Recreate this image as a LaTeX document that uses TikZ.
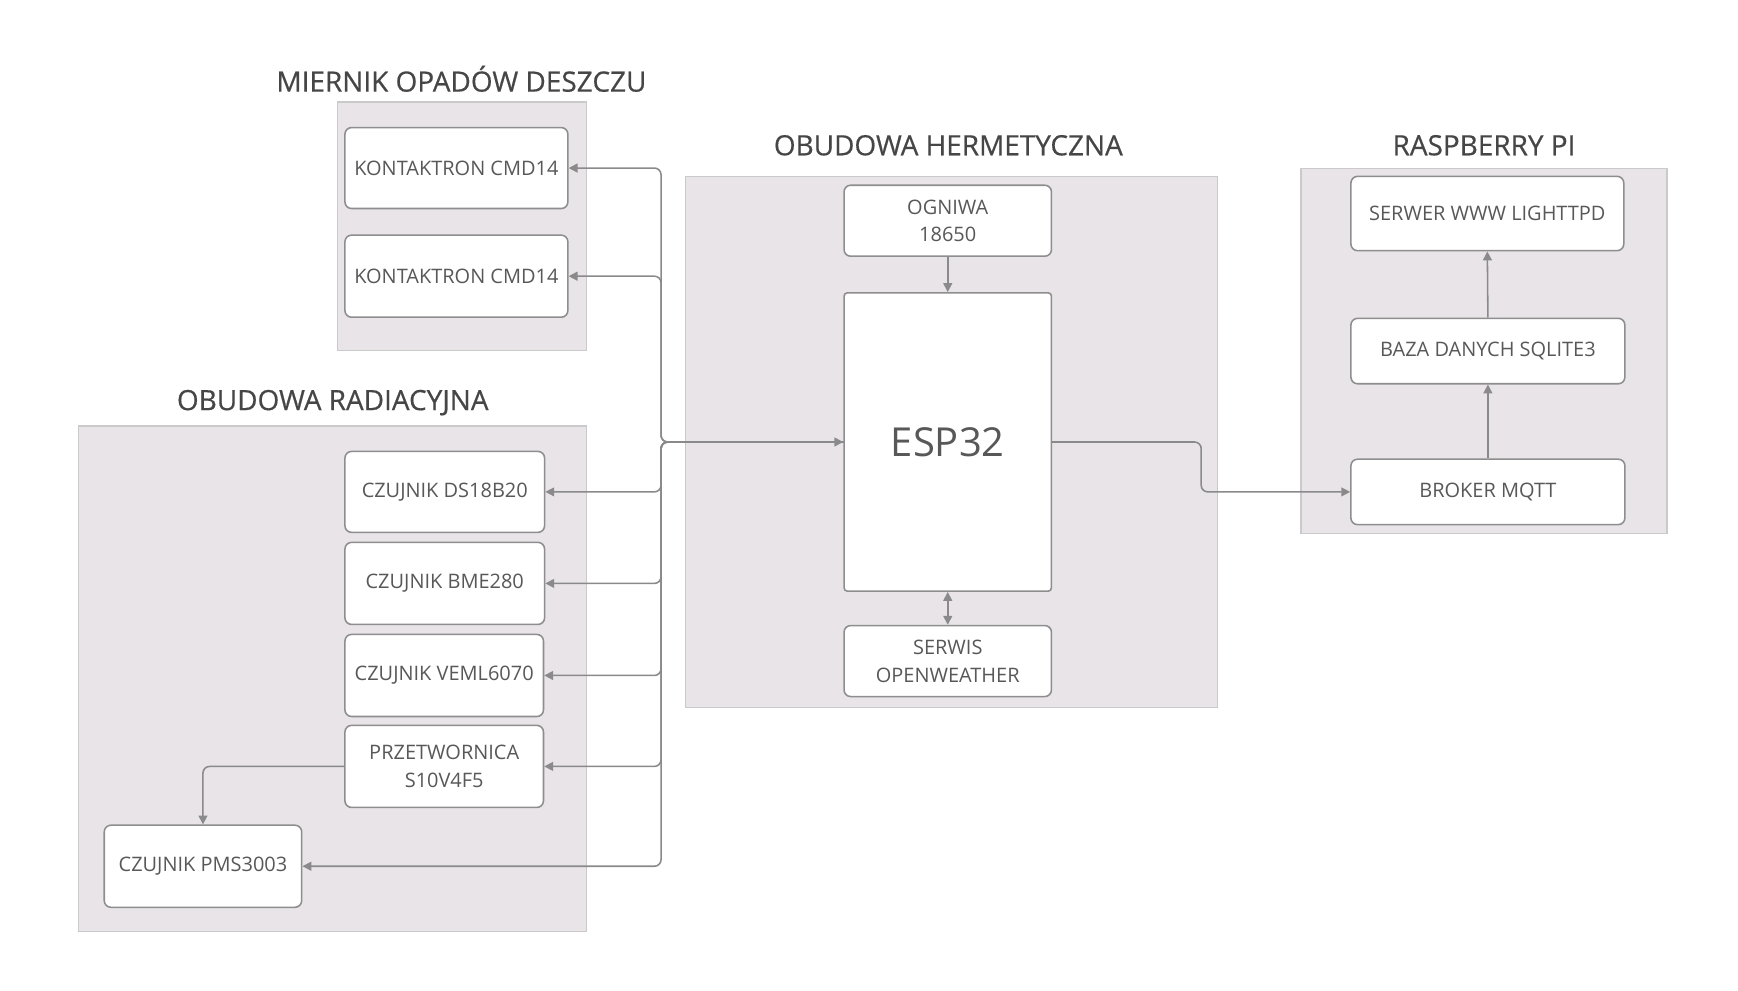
\documentclass[tikz,border=0pt]{standalone}
\usepackage{fontspec}
\setmainfont{Open Sans}
\newfontfamily\ttlfont[FakeBold=0.5]{Open Sans}
\usetikzlibrary{arrows.meta,positioning,calc}
\definecolor{txt}{HTML}{585858}
\definecolor{ttxt}{HTML}{464646}
\definecolor{frfill}{HTML}{E8E4E8}
\definecolor{frline}{HTML}{CACACA}
\definecolor{bxline}{HTML}{8E8E8E}
\definecolor{cn}{HTML}{8A8A8A}
\tikzset{
  frame/.style={draw=frline, fill=frfill, line width=1.2pt},
  box/.style={draw=bxline, fill=white, line width=1.4pt, rounded corners=6pt,
    text=txt, font=\fontsize{18}{25}\selectfont, align=center, inner sep=0pt},
  ttl/.style={text=ttxt, font=\ttlfont\fontsize{25.2}{28}\selectfont, inner sep=0pt},
  conn/.style={draw=cn, line width=1.4pt, rounded corners=6pt,
    -{Triangle[length=8pt,width=8pt]}},
  bconn/.style={draw=cn, line width=1.4pt,
    {Triangle[length=8pt,width=8pt]}-{Triangle[length=8pt,width=8pt]}}
}
\begin{document}
\begin{tikzpicture}[x=1pt,y=-1pt]
\useasboundingbox (0,0) rectangle (1567,892.6);
\fill[white] (0,0) rectangle (1567,892.6);

% frames
\draw[frame] (304,92) rectangle (529,316);
\draw[frame] (71,384) rectangle (529,840);
\draw[frame] (618,159) rectangle (1098,638);
\draw[frame] (1173,152) rectangle (1503,481);

% titles
\node[ttl] (t1) at (416,71) {MIERNIK OPADÓW DESZCZU};
\node[ttl] (t2) at (300,363) {OBUDOWA RADIACYJNA};
\node[ttl] (t3) at (855,131) {OBUDOWA HERMETYCZNA};
\node[ttl] (t4) at (1338,131) {RASPBERRY PI};

% rain gauge
\node[box, minimum width=201pt, minimum height=73pt] (k1) at (411.5,151.5) {KONTAKTRON CMD14};
\node[box, minimum width=201pt, minimum height=74pt] (k2) at (411.5,249) {KONTAKTRON CMD14};

% radiation shield
\node[box, minimum width=180pt, minimum height=73pt] (ds) at (401,443.5) {CZUJNIK DS18B20};
\node[box, minimum width=180pt, minimum height=74pt] (bme) at (401,526) {CZUJNIK BME280};
\node[box, minimum width=179pt, minimum height=74pt] (veml) at (400.5,609) {CZUJNIK VEML6070};
\node[box, minimum width=179pt, minimum height=74pt] (prz) at (400.5,691) {PRZETWORNICA\\S10V4F5};
\node[box, minimum width=178pt, minimum height=74pt] (pms) at (183,781) {CZUJNIK PMS3003};

% hermetic enclosure
\node[box, minimum width=187pt, minimum height=64pt] (ogn) at (854.5,199) {OGNIWA\\18650};
\node[box, rounded corners=3pt, minimum width=187pt, minimum height=269pt, font=\fontsize{36}{40}\selectfont] (esp) at (854.5,398.5) {ESP32};
\node[box, minimum width=187pt, minimum height=64pt] (ser) at (854.5,596) {SERWIS\\OPENWEATHER};

% raspberry pi
\node[box, minimum width=246pt, minimum height=67pt] (www) at (1341,192.5) {SERWER WWW LIGHTTPD};
\node[box, minimum width=247pt, minimum height=59pt] (db) at (1341.5,316.5) {BAZA DANYCH SQLITE3};
\node[box, minimum width=247pt, minimum height=59pt] (mq) at (1341.5,443.5) {BROKER MQTT};

% bus coordinate
\coordinate (bus) at (596,398.5);

% connectors from ESP32 to sensors
\draw[conn, {Triangle[length=8pt,width=8pt]}-{Triangle[length=8pt,width=8pt]}] (esp.west) -- (bus) |- (k1.east);
\draw[conn] (esp.west) -- (bus) |- (k2.east);
\draw[conn] (esp.west) -- (bus) |- (ds.east);
\draw[conn] (esp.west) -- (bus) |- (bme.east);
\draw[conn] (esp.west) -- (bus) |- (veml.east);
\draw[conn] (esp.west) -- (bus) |- (prz.east);
\draw[conn] (esp.west) -- (bus) |- (pms.east);

% converter to PMS
\draw[conn] (prz.west) -| (pms.north);

% hermetic internal
\draw[conn] (ogn.south) -- (esp.north);
\draw[bconn] (esp.south) -- (ser.north);

% ESP32 to broker
\coordinate (jog) at (1083,398.5);
\draw[conn] (esp.east) -- (jog) |- (mq.west);

% raspberry internal
\draw[conn] (mq.north) -- (db.south);
\draw[conn] (db.north) -- (www.south);
\end{tikzpicture}
\end{document}
